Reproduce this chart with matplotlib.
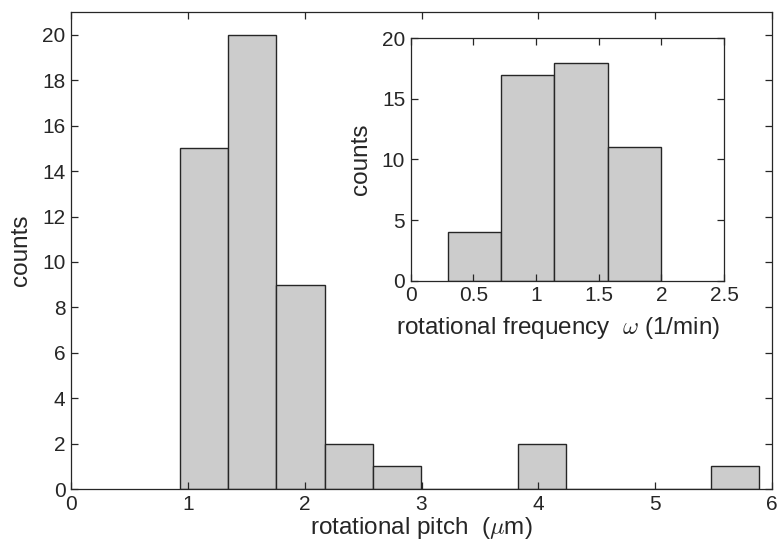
import matplotlib
matplotlib.use('Agg')
import matplotlib.pyplot as plt
import numpy as np

# main histogram: rotational pitch
pitch_start = 0.93
pitch_width = 0.4135
pitch_counts = [15, 20, 9, 2, 1, 0, 0, 2, 0, 0, 0, 1]

# inset histogram: rotational frequency
freq_start = 0.295
freq_width = 0.4258
freq_counts = [4, 17, 18, 11]

plt.rcParams['font.family'] = ['Liberation Sans', 'DejaVu Sans']
plt.rcParams['mathtext.fontset'] = 'cm'

face = '#cccccc'
edge = '#262626'
axis_col = '#262626'
tick_fs = 15
label_fs = 17.5


def style(ax):
    for s in ax.spines.values():
        s.set_color(axis_col)
        s.set_linewidth(0.9)
    ax.tick_params(direction='in', top=True, right=True, length=5,
                   width=0.9, color=axis_col, labelsize=tick_fs,
                   labelcolor='#262626', pad=4)


fig = plt.figure(figsize=(7.79, 5.54), dpi=100)

ax = fig.add_axes([0.0911, 0.1173, 0.9000, 0.8607])
left = pitch_start + pitch_width * np.arange(len(pitch_counts))
ax.bar(left, pitch_counts, width=pitch_width, align='edge',
       color=face, edgecolor=edge, linewidth=1.0)
ax.set_xlim(0, 6)
ax.set_ylim(0, 21)
ax.set_xticks(range(0, 7))
ax.set_yticks(range(0, 21, 2))
ax.set_xlabel(r'rotational pitch  ($\mu$m)', fontsize=label_fs, color='#262626', labelpad=1)
ax.set_ylabel('counts', fontsize=label_fs, color='#262626', labelpad=7)
style(ax)

ins = fig.add_axes([0.5272, 0.4933, 0.4022, 0.4376])
left2 = freq_start + freq_width * np.arange(len(freq_counts))
ins.bar(left2, freq_counts, width=freq_width, align='edge',
        color=face, edgecolor=edge, linewidth=1.0)
ins.set_xlim(0, 2.5)
ins.set_ylim(0, 20)
ins.set_xticks([0, 0.5, 1, 1.5, 2, 2.5])
ins.set_xticklabels(['0', '0.5', '1', '1.5', '2', '2.5'])
ins.set_yticks([0, 5, 10, 15, 20])
ins.set_xlabel(r'rotational frequency  $\omega$ (1/min)', fontsize=label_fs,
               color='#262626', labelpad=1)
ins.xaxis.set_label_coords(0.47, -0.14)
ins.set_ylabel('counts', fontsize=label_fs, color='#262626', labelpad=7)
style(ins)

fig.savefig('out.png', dpi=100)
